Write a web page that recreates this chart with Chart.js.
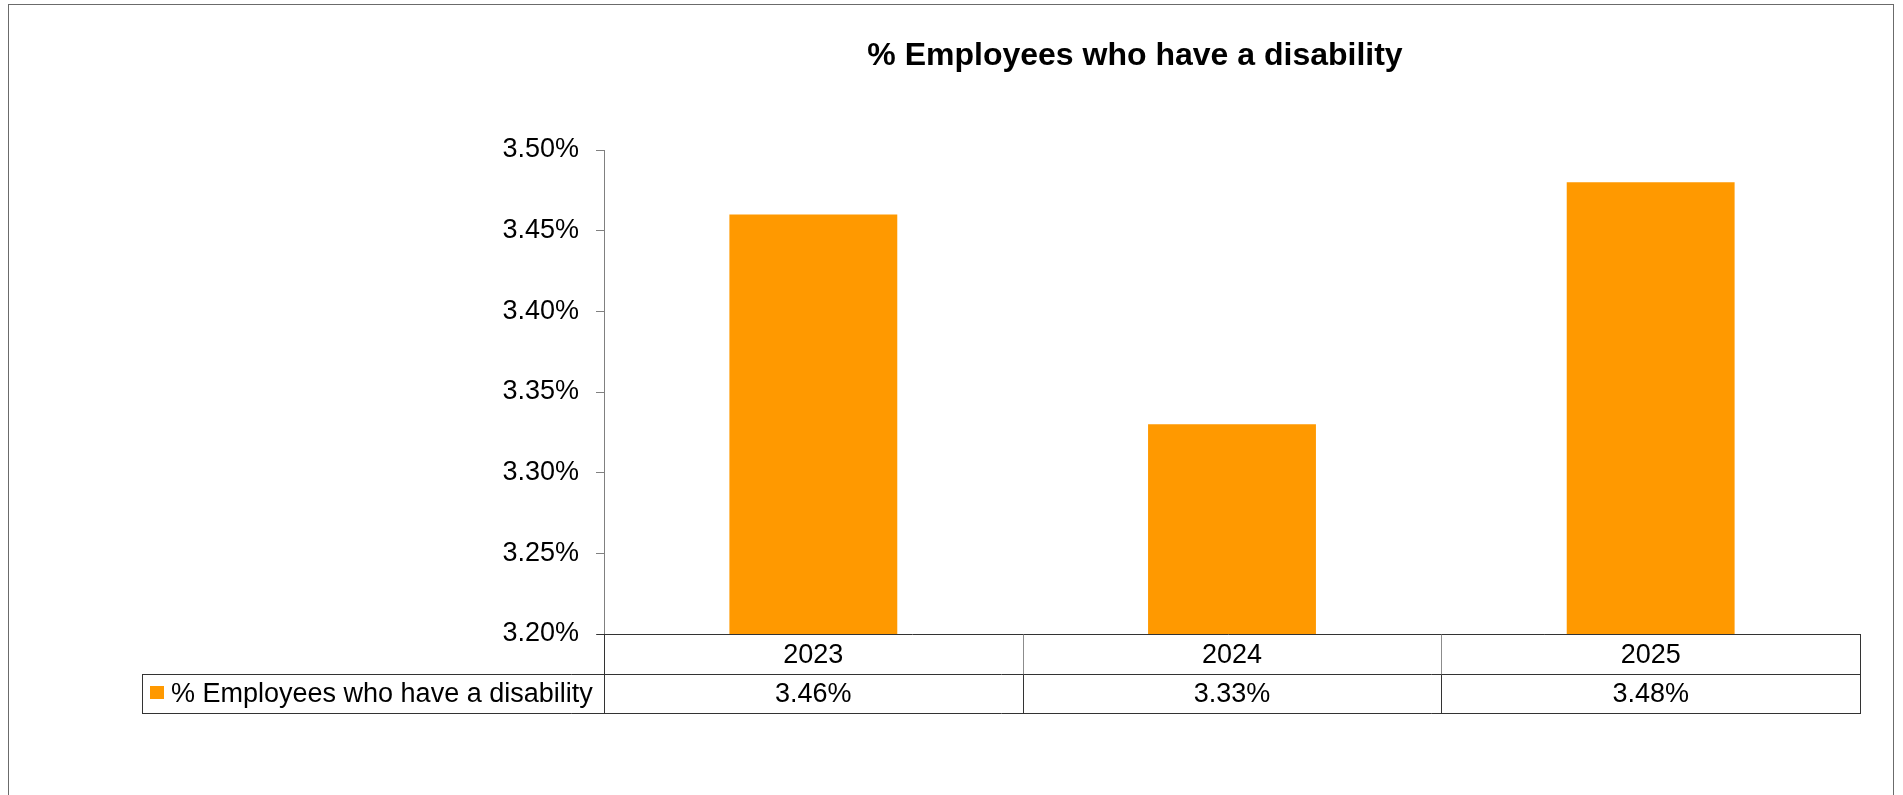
<!DOCTYPE html>
<html>
<head>
<meta charset="utf-8">
<script src="https://cdn.jsdelivr.net/npm/chart.js@4.4.0/dist/chart.umd.min.js"></script>
<style>
  html, body { margin: 0; padding: 0; background: #fff; }
  #wrap { width: 1903px; height: 795px; position: relative; }
</style>
</head>
<body>
<div id="wrap"><canvas id="chart"></canvas></div>
<script>
// data
const YEARS = ['2023', '2024', '2025'];
const DISABILITY_PCT = [3.46, 3.33, 3.48];
const SERIES_NAME = '% Employees who have a disability';
const CHART_TITLE = '% Employees who have a disability';
const Y_MIN = 3.2;
const Y_MAX = 3.5;
const Y_STEP = 0.05;

const COLORS = {
  bar: '#FF9900',
  axis: '#808080',
  table: '#333333',
  tableLight: '#8c8c8c',
  frame: '#6b6b6b',
  text: '#000000',
};
const FONT = "'Liberation Sans', Arial, sans-serif";

const px = (v) => Math.round(v) + 0.5;

function line(ctx, x1, y1, x2, y2, color) {
  ctx.strokeStyle = color;
  ctx.beginPath();
  ctx.moveTo(x1, y1);
  ctx.lineTo(x2, y2);
  ctx.stroke();
}

// frame, title and the data table under the plot
const tablePlugin = {
  id: 'dataTable',
  afterDraw(chart) {
    const ctx = chart.ctx;
    const area = chart.chartArea;
    const xs = chart.scales.x;
    const n = chart.data.labels.length;
    const colW = (area.right - area.left) / n;
    const top = area.bottom;
    const mid = top + 39.5;
    const bot = top + 79;
    const legLeft = 142;

    ctx.save();
    ctx.lineWidth = 1;

    // outer frame
    ctx.strokeStyle = COLORS.frame;
    ctx.strokeRect(8.5, 4.5, 1885, 1000);

    // title
    ctx.fillStyle = COLORS.text;
    ctx.font = 'bold 32px ' + FONT;
    ctx.textAlign = 'center';
    ctx.textBaseline = 'alphabetic';
    ctx.fillText(CHART_TITLE, 1135, 65);

    // table grid
    line(ctx, px(area.left) - 8, px(top), area.right + 1, px(top), COLORS.table);
    line(ctx, legLeft, px(mid), area.right + 1, px(mid), COLORS.table);
    line(ctx, legLeft, px(bot), area.right + 1, px(bot), COLORS.table);
    line(ctx, px(legLeft), px(mid), px(legLeft), px(bot), COLORS.table);
    line(ctx, px(area.left), px(top), px(area.left), px(bot), COLORS.table);
    for (let i = 1; i <= n; i++) {
      const x = px(area.left + i * colW);
      line(ctx, x, px(top), x, px(mid), i === n ? COLORS.table : COLORS.tableLight);
      line(ctx, x, px(mid), x, px(bot), COLORS.table);
    }

    // category labels and values
    ctx.font = '27px ' + FONT;
    ctx.textAlign = 'center';
    chart.data.labels.forEach((lab, i) => {
      const cx = xs.getPixelForValue(i);
      ctx.fillText(lab, cx, top + 29);
      const v = chart.data.datasets[0].data[i];
      ctx.fillText(v.toFixed(2) + '%', cx, mid + 28);
    });

    // legend cell
    ctx.fillStyle = COLORS.bar;
    ctx.fillRect(150, mid + 12.5, 14, 13);
    ctx.fillStyle = COLORS.text;
    ctx.textAlign = 'left';
    ctx.fillText(chart.data.datasets[0].label, 171, mid + 28);

    ctx.restore();
  },
};

new Chart(document.getElementById('chart'), {
  type: 'bar',
  data: {
    labels: YEARS,
    datasets: [{
      label: SERIES_NAME,
      data: DISABILITY_PCT,
      backgroundColor: COLORS.bar,
      borderWidth: 0,
      categoryPercentage: 1,
      barPercentage: 0.401,
    }],
  },
  options: {
    responsive: true,
    maintainAspectRatio: false,
    animation: false,
    layout: { padding: { left: 0, top: 150, right: 43, bottom: 0 } },
    plugins: {
      legend: { display: false },
      title: { display: false },
      tooltip: { enabled: false },
    },
    scales: {
      x: {
        ticks: { display: false },
        grid: { display: false },
        border: { display: false },
        afterFit: (s) => { s.height = 161; },
      },
      y: {
        min: Y_MIN,
        max: Y_MAX,
        ticks: {
          stepSize: Y_STEP,
          padding: 17,
          color: COLORS.text,
          font: { family: FONT, size: 27 },
          callback: (v) => v.toFixed(2) + '%',
        },
        grid: {
          drawOnChartArea: false,
          drawTicks: true,
          tickLength: 8,
          color: COLORS.axis,
        },
        border: { color: COLORS.axis, width: 1 },
        afterFit: (s) => { s.width = 604; },
      },
    },
  },
  plugins: [tablePlugin],
});
</script>
</body>
</html>
